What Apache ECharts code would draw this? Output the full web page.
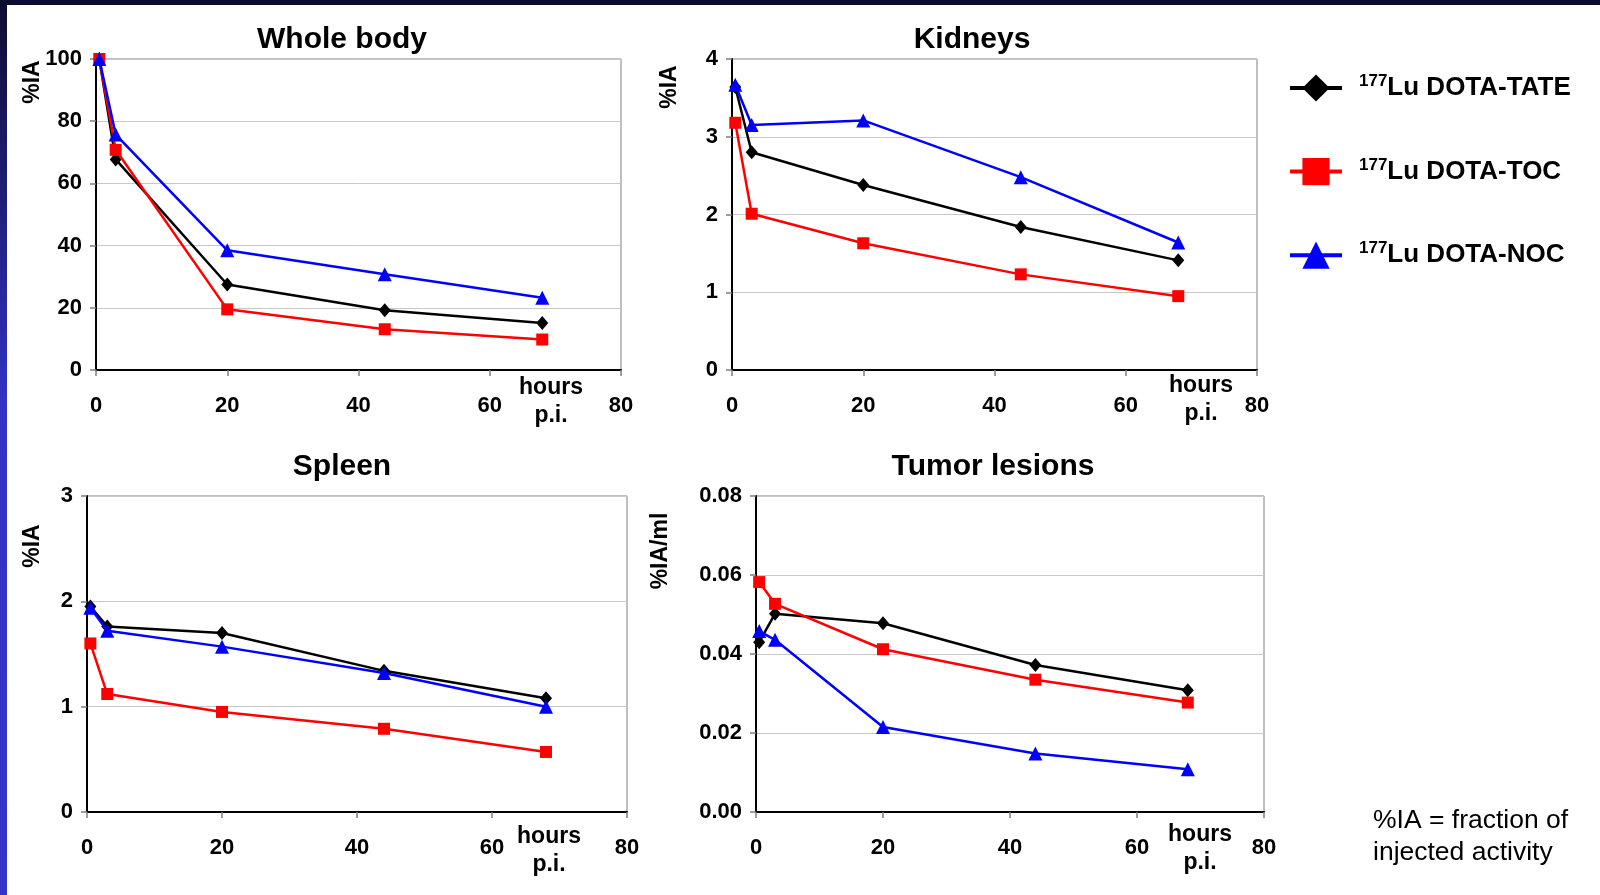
<!DOCTYPE html>
<html><head><meta charset="utf-8">
<script src="https://cdn.jsdelivr.net/npm/echarts@6/dist/echarts.min.js"></script>
<style>html,body{margin:0;padding:0;background:#fff}#c{width:1600px;height:895px}</style>
</head><body><div id="c"></div>
<script>
// ---- data ----
const HOURS = [0.5, 3, 20, 44, 68];
const SERIES_NAMES = ['DOTA-TATE', 'DOTA-TOC', 'DOTA-NOC'];
const PANELS = ['Whole body', 'Kidneys', 'Spleen', 'Tumor lesions'];
const Y_NAMES = ['%IA', '%IA', '%IA', '%IA/ml'];
const X_TICKS = [0, 20, 40, 60, 80];
const Y_TICKS_WB = [0, 20, 40, 60, 80, 100];
const Y_TICKS_KID = [0, 1, 2, 3, 4];
const Y_TICKS_SPL = [0, 1, 2, 3];
const Y_TICKS_TUM = [0, 0.02, 0.04, 0.06, 0.08];

const WB_TATE = [100, 67.7, 27.5, 19.2, 15.1];
const WB_TOC  = [100, 70.8, 19.5, 13.1, 9.8];
const WB_NOC  = [100, 75.7, 38.5, 30.8, 23.2];
const KID_TATE = [3.64, 2.80, 2.38, 1.84, 1.41];
const KID_TOC  = [3.18, 2.01, 1.63, 1.23, 0.95];
const KID_NOC  = [3.67, 3.15, 3.21, 2.48, 1.64];
const SPL_TATE = [1.95, 1.76, 1.70, 1.34, 1.08];
const SPL_TOC  = [1.60, 1.12, 0.95, 0.79, 0.57];
const SPL_NOC  = [1.94, 1.72, 1.57, 1.32, 1.00];
const TUM_TATE = [0.0430, 0.0502, 0.0478, 0.0372, 0.0308];
const TUM_TOC  = [0.0582, 0.0527, 0.0412, 0.0335, 0.0277];
const TUM_NOC  = [0.0458, 0.0436, 0.0215, 0.0148, 0.0108];

// ---- layout / style ----
const FONT = 'Liberation Sans, Arial, sans-serif';
const DATA = [[WB_TATE, WB_TOC, WB_NOC], [KID_TATE, KID_TOC, KID_NOC], [SPL_TATE, SPL_TOC, SPL_NOC], [TUM_TATE, TUM_TOC, TUM_NOC]];
const YT = [Y_TICKS_WB, Y_TICKS_KID, Y_TICKS_SPL, Y_TICKS_TUM];
const DEC = [0, 0, 0, 2];
const GRIDS = [
  {left: 96, top: 59, width: 525, height: 311},
  {left: 732, top: 59, width: 525, height: 311},
  {left: 87, top: 496, width: 540, height: 316},
  {left: 756, top: 496, width: 508, height: 316}
];
const TITLE_POS = [[342, 40], [972, 40], [342, 467], [993, 467]];
const YNAME_POS = [[33, 82], [670, 87], [33, 546], [661, 551]];
const HOURS_POS = [[551, 402], [1201, 400], [549, 851], [1200, 849]];
const COLORS = ['#000000', '#ff0000', '#0000ff'];
const SYMBOLS = ['diamond', 'rect', 'triangle'];
const SIZES = [[12, 14], 12, 14];

const grid = GRIDS.map(g => Object.assign({show: true, borderColor: '#7f7f7f', borderWidth: 1, backgroundColor: '#fff'}, g));

const xAxis = GRIDS.map((g, i) => ({
  type: 'value', gridIndex: i,
  min: X_TICKS[0], max: X_TICKS[X_TICKS.length - 1], interval: X_TICKS[1] - X_TICKS[0],
  axisLine: {show: true, onZero: false, lineStyle: {color: '#000', width: 2}},
  axisTick: {show: true, length: 6, lineStyle: {color: '#7f7f7f', width: 1.5}},
  splitLine: {show: false},
  axisLabel: {color: '#000', fontWeight: 'bold', fontSize: 22, fontFamily: FONT, margin: 25}
}));

const yAxis = GRIDS.map((g, i) => ({
  type: 'value', gridIndex: i,
  min: YT[i][0], max: YT[i][YT[i].length - 1], interval: YT[i][1] - YT[i][0],
  axisLine: {show: true, lineStyle: {color: '#000', width: 2}},
  axisTick: {show: true, length: 6, lineStyle: {color: '#7f7f7f', width: 1.5}},
  splitLine: {show: true, lineStyle: {color: '#c8c8c8', width: 1}},
  axisLabel: {color: '#000', fontWeight: 'bold', fontSize: 22, fontFamily: FONT, margin: 14,
    formatter: v => v.toFixed(DEC[i])}
}));

const series = [];
DATA.forEach((panel, p) => {
  panel.forEach((vals, s) => {
    series.push({
      type: 'line', name: SERIES_NAMES[s], xAxisIndex: p, yAxisIndex: p,
      data: HOURS.map((h, k) => [h, vals[k]]),
      symbol: SYMBOLS[s], symbolSize: SIZES[s], showAllSymbol: true,
      lineStyle: {color: COLORS[s], width: 2.5},
      itemStyle: {color: COLORS[s]},
      clip: false, z: 2 + s
    });
  });
});

const graphic = [
  {type: 'rect', left: 0, top: 0, shape: {width: 1600, height: 5}, style: {fill: '#0c0c30'}, z: 100},
  {type: 'rect', left: 0, top: 0, shape: {width: 7, height: 895},
    style: {fill: new echarts.graphic.LinearGradient(0, 0, 0, 1, [
      {offset: 0, color: '#0c0c30'}, {offset: 0.45, color: '#3232c4'}, {offset: 1, color: '#3434c8'}])}, z: 100}
];
PANELS.forEach((t, i) => {
  graphic.push({type: 'text', x: TITLE_POS[i][0], y: TITLE_POS[i][1], z: 50,
    style: {text: t, align: 'center', verticalAlign: 'middle', fill: '#000', font: 'bold 30px ' + FONT}});
  graphic.push({type: 'text', x: YNAME_POS[i][0], y: YNAME_POS[i][1], rotation: Math.PI / 2, z: 50,
    style: {text: Y_NAMES[i], align: 'center', verticalAlign: 'middle', fill: '#000', font: 'bold 23px ' + FONT}});
  graphic.push({type: 'text', x: HOURS_POS[i][0], y: HOURS_POS[i][1], z: 50,
    style: {text: 'hours\np.i.', align: 'center', verticalAlign: 'middle', lineHeight: 28, fill: '#000', font: 'bold 23px ' + FONT}});
});
graphic.push({type: 'text', x: 1373, y: 805, z: 50,
  style: {text: '%IA = fraction of\ninjected activity', align: 'left', verticalAlign: 'top', lineHeight: 32, fill: '#000', font: '26.5px ' + FONT}});

const option = {
  animation: false,
  backgroundColor: '#ffffff',
  grid, xAxis, yAxis, series, graphic,
  legend: {
    data: SERIES_NAMES, orient: 'vertical', left: 1283, top: 68,
    itemWidth: 52, itemHeight: 34, itemGap: 55,
    lineStyle: {width: 4},
    formatter: n => '{sup|177}{main|Lu ' + n + '}',
    textStyle: {
      rich: {
        sup: {fontSize: 17, fontWeight: 'bold', fontFamily: FONT, color: '#000', verticalAlign: 'top', padding: [0, 0, 0, 12]},
        main: {fontSize: 26, fontWeight: 'bold', fontFamily: FONT, color: '#000', lineHeight: 30}
      }
    }
  }
};
echarts.init(document.getElementById('c')).setOption(option);
</script>
</body></html>
